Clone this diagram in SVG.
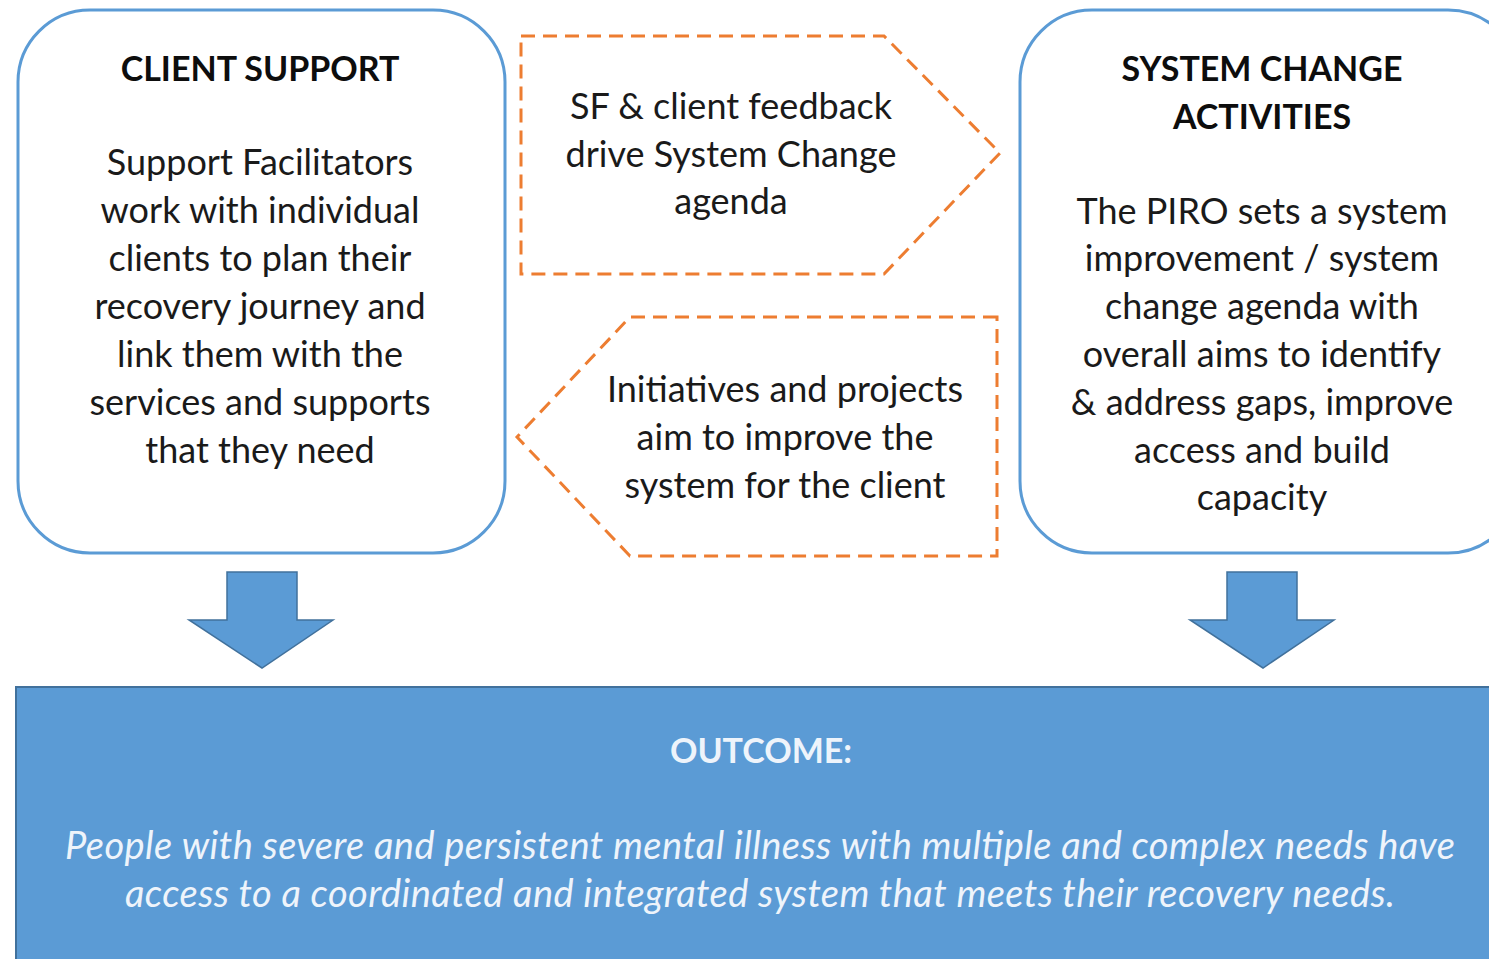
<svg xmlns="http://www.w3.org/2000/svg" width="1489" height="959" viewBox="0 0 1489 959">
<style>
.box{fill:#fff;stroke:#5b9bd5;stroke-width:3}
.dash{fill:#fff;stroke:#ed7d31;stroke-width:3;stroke-dasharray:14 8}
.barrow{fill:#5b9bd5;stroke:#41719c;stroke-width:1.5}
.t{font-family:Lato,"Open Sans",sans-serif;font-size:36px;fill:#1a1a1a;text-anchor:middle}
.h{font-family:Lato,"Open Sans",sans-serif;font-size:34px;font-weight:bold;fill:#0d0d0d;text-anchor:middle}
.o{font-family:Lato,"Open Sans",sans-serif;font-size:34px;font-weight:bold;fill:#eef4fb;text-anchor:middle}
.i{font-family:Lato,"Open Sans",sans-serif;font-size:38px;font-style:italic;fill:#eef4fb;text-anchor:middle}
</style>
<rect width="1489" height="959" fill="#fff"/>
<g id="client-support">
<rect class="box" x="18" y="10" width="487" height="543" rx="72" ry="72"/>
<text class="h" x="260" y="81">CLIENT SUPPORT</text>
<text class="t" x="260" y="175">Support Facilitators</text>
<text class="t" x="260" y="223">work with individual</text>
<text class="t" x="260" y="271">clients to plan their</text>
<text class="t" x="260" y="319">recovery journey and</text>
<text class="t" x="260" y="367">link them with the</text>
<text class="t" x="260" y="415">services and supports</text>
<text class="t" x="260" y="463">that they need</text>
</g>
<g id="system-change">
<rect class="box" x="1020" y="10" width="500" height="543" rx="72" ry="72"/>
<text class="h" x="1262" y="81">SYSTEM CHANGE</text>
<text class="h" x="1262" y="129">ACTIVITIES</text>
<text class="t" x="1262" y="224">The PIRO sets a system</text>
<text class="t" x="1262" y="271">improvement / system</text>
<text class="t" x="1262" y="319">change agenda with</text>
<text class="t" x="1262" y="367">overall aims to identify</text>
<text class="t" x="1262" y="415">&amp; address gaps, improve</text>
<text class="t" x="1262" y="463">access and build</text>
<text class="t" x="1262" y="510">capacity</text>
</g>
<g id="connectors">
<g id="feedback-arrow">
<polygon class="dash" points="521,36 884,36 1000,153 884,274 521,274"/>
<text class="t" x="731" y="119">SF &amp; client feedback</text>
<text class="t" x="731" y="167">drive System Change</text>
<text class="t" x="731" y="214">agenda</text>
</g>
<g id="initiatives-arrow">
<polygon class="dash" points="997,317 630,317 517,437 630,556 997,556"/>
<text class="t" x="785" y="402">Initiatives and projects</text>
<text class="t" x="785" y="450">aim to improve the</text>
<text class="t" x="785" y="498">system for the client</text>
</g>
<polygon id="arrow-left" class="barrow" points="227,572 297,572 297,620 333,620 262,668 189,620 227,620"/>
<polygon id="arrow-right" class="barrow" points="1227,572 1297,572 1297,620 1334,620 1263,668 1190,620 1227,620"/>
</g>
<g id="outcome">
<rect x="16" y="687" width="1490" height="280" fill="#5b9bd5" stroke="#41719c" stroke-width="2"/>
<text class="o" x="761" y="763">OUTCOME:</text>
<text class="i" x="760" y="859" textLength="1390" lengthAdjust="spacing">People with severe and persistent mental illness with multiple and complex needs have</text>
<text class="i" x="760" y="907" textLength="1270" lengthAdjust="spacing">access to a coordinated and integrated system that meets their recovery needs.</text>
</g>
</svg>
